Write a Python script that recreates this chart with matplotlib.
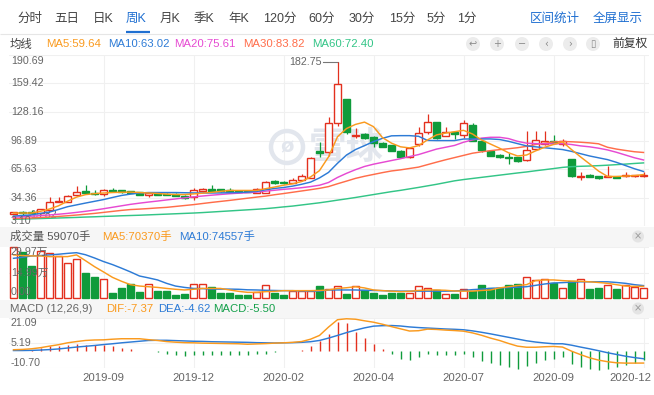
import matplotlib
matplotlib.use('Agg')
import matplotlib.pyplot as plt
from matplotlib.patches import Rectangle, Circle
from matplotlib.lines import Line2D
from matplotlib.transforms import IdentityTransform

plt.rcParams['font.family'] = ['Liberation Sans', 'Noto Sans CJK SC', 'DejaVu Sans']

# ---------------- data ----------------
opens = [16.5, 19.0, 19.0, 17.6, 21.3, 30.0, 29.6, 36.9, 41.6, 39.8,
         38.7, 43.1, 42.3, 41.6, 40.1, 37.6, 39.0, 38.5, 38.3, 36.5,
         34.7, 41.6, 43.4, 43.4, 43.1, 42.0, 41.8, 39.8, 39.4, 52.1,
         52.0, 50.5, 53.5, 56.4, 85.9, 84.2, 116.1, 142.2, 101.5, 104.4,
         101.1, 94.4, 92.1, 85.9, 78.6, 93.2, 106.6, 116.7, 102.2, 106.6,
         103.3, 114.2, 96.8, 85.9, 81.5, 78.3, 78.6, 75.8, 87.7, 93.2,
         96.8, 93.5, 76.9, 57.0, 59.0, 57.6, 57.5, 57.5, 57.8, 58.0, 57.9]
highs = [18.8, 19.6, 21.0, 22.5, 35.0, 35.0, 37.0, 46.7, 47.8, 43.0,
         43.5, 45.3, 43.0, 42.0, 40.5, 39.8, 39.5, 39.0, 39.0, 37.0,
         45.3, 45.3, 48.1, 44.0, 45.3, 42.5, 42.3, 45.5, 53.0, 54.0,
         53.0, 55.5, 60.5, 78.5, 95.7, 122.9, 182.75, 142.2, 110.2, 105.5,
         101.5, 95.0, 92.5, 86.5, 89.0, 111.3, 125.8, 117.0, 111.3, 107.5,
         119.7, 115.5, 97.5, 86.5, 82.0, 83.0, 79.0, 107.6, 107.6, 107.6,
         103.0, 98.5, 77.0, 62.0, 60.0, 58.0, 68.5, 58.0, 62.5, 59.5, 62.5]
lows = [16.0, 15.82, 16.8, 17.0, 21.0, 29.5, 29.4, 36.5, 39.0, 37.0,
        36.1, 40.8, 40.0, 39.0, 36.8, 35.0, 37.3, 36.8, 35.8, 33.0,
        32.2, 41.0, 41.0, 41.0, 40.5, 40.5, 40.3, 39.5, 39.0, 49.5,
        49.8, 50.0, 53.0, 55.5, 78.6, 80.0, 113.1, 104.0, 99.3, 98.5,
        89.5, 89.5, 85.0, 78.0, 77.5, 90.5, 103.5, 99.0, 101.5, 99.0,
        100.0, 96.0, 84.5, 79.5, 78.0, 71.5, 73.5, 75.0, 86.5, 91.5,
        93.0, 91.0, 57.0, 54.0, 56.5, 55.0, 56.5, 55.5, 57.0, 57.5, 57.0]
closes = [18.3, 17.6, 17.6, 21.9, 29.6, 31.0, 36.1, 40.5, 39.4, 37.9,
          43.1, 41.2, 40.5, 39.8, 37.2, 39.4, 37.8, 37.2, 36.1, 34.4,
          43.1, 43.4, 41.6, 41.4, 41.0, 41.0, 40.8, 44.2, 51.4, 50.3,
          50.3, 53.3, 57.8, 78.2, 83.4, 116.1, 158.5, 105.8, 102.6, 99.3,
          94.3, 90.2, 85.9, 78.6, 88.4, 104.8, 116.7, 99.7, 106.6, 104.1,
          116.1, 96.8, 86.6, 80.4, 78.6, 77.6, 74.2, 86.6, 97.5, 96.8,
          94.0, 96.8, 57.6, 58.5, 57.5, 55.7, 58.5, 56.2, 59.0, 59.0, 59.7]

ma5 = [17.6, 17.6, 17.6, 19.5, 22.0, 25.5, 30.5, 35.0, 37.7, 38.8,
       39.5, 40.0, 40.3, 40.5, 40.0, 39.5, 39.0, 38.3, 37.8, 37.8,
       38.5, 39.3, 40.2, 41.3, 42.3, 42.3, 42.3, 42.3, 44.2, 46.0,
       48.0, 49.5, 52.0, 57.0, 64.0, 79.0, 101.0, 110.0, 114.5, 117.0,
       112.0, 100.0, 94.0, 90.0, 88.8, 91.3, 97.5, 103.0, 105.0, 106.5,
       108.0, 104.0, 97.5, 93.0, 88.5, 83.5, 80.0, 81.0, 85.5, 89.5,
       92.5, 95.5, 87.0, 79.0, 71.4, 63.5, 57.6, 57.6, 58.0, 58.5, 59.64]
ma10 = [14.3, 14.9, 15.6, 17.2, 18.7, 21.5, 24.5, 26.5, 28.5, 30.4,
        32.3, 34.6, 36.8, 38.3, 39.5, 40.0, 40.0, 40.0, 40.0, 39.8,
        39.6, 39.5, 39.5, 39.6, 39.8, 40.0, 40.5, 41.2, 43.0, 44.5,
        45.5, 47.0, 49.0, 51.4, 56.0, 62.0, 72.0, 81.0, 87.0, 91.3,
        95.7, 99.3, 102.0, 102.2, 102.2, 101.5, 97.0, 96.8, 96.8, 96.8,
        98.5, 98.6, 98.6, 98.6, 98.0, 96.0, 93.5, 91.0, 90.0, 89.0,
        88.0, 87.0, 85.0, 82.5, 80.0, 78.0, 76.0, 73.0, 69.5, 66.0, 63.02]
ma20 = [13.0, 13.5, 14.2, 14.8, 15.5, 16.3, 17.2, 18.3, 19.5, 20.8,
        22.3, 23.9, 25.5, 27.1, 28.4, 29.6, 30.7, 31.9, 33.0, 34.2,
        35.3, 36.2, 37.1, 37.9, 38.7, 39.3, 39.8, 40.5, 41.5, 42.5,
        43.5, 44.3, 45.3, 46.5, 48.0, 51.0, 56.5, 61.0, 65.0, 68.5,
        71.0, 73.0, 75.0, 77.0, 79.3, 81.5, 84.5, 87.5, 89.5, 91.5,
        95.0, 97.5, 99.5, 100.4, 100.4, 99.0, 96.0, 94.0, 93.5, 93.3,
        93.2, 93.5, 92.5, 91.0, 90.0, 88.5, 86.6, 84.0, 81.0, 78.0, 75.61]
ma30 = [11.5, 11.8, 12.2, 12.7, 13.3, 13.9, 14.6, 15.4, 16.3, 17.2,
        18.3, 19.4, 20.5, 21.4, 21.9, 22.5, 23.2, 23.8, 24.8, 25.8,
        26.8, 28.0, 29.2, 30.3, 31.4, 32.6, 33.8, 35.0, 36.1, 37.6,
        38.9, 40.3, 41.7, 43.1, 44.6, 46.5, 49.6, 52.5, 55.5, 57.8,
        59.8, 61.8, 63.6, 64.8, 66.3, 67.8, 70.5, 73.2, 75.8, 78.2,
        80.6, 83.0, 84.5, 85.8, 86.9, 87.9, 89.0, 90.5, 92.5, 94.0,
        95.3, 95.8, 95.5, 95.0, 94.3, 93.3, 89.5, 87.5, 86.0, 84.6, 83.82]
ma60 = [10.7, 11.0, 11.3, 11.6, 11.9, 12.2, 12.5, 12.8, 13.2, 13.5,
        13.9, 14.2, 14.6, 14.9, 15.2, 15.6, 16.0, 16.4, 16.8, 17.2,
        17.6, 18.1, 18.7, 19.3, 19.9, 20.5, 21.1, 21.7, 22.4, 23.3,
        24.3, 25.2, 26.4, 27.6, 28.8, 30.2, 31.7, 33.1, 34.6, 36.2,
        37.8, 39.4, 41.0, 42.4, 44.0, 45.6, 47.3, 49.0, 50.9, 52.8,
        54.2, 55.4, 56.6, 57.8, 59.0, 60.2, 61.4, 62.5, 63.8, 65.0,
        66.2, 67.5, 68.3, 68.7, 69.0, 69.4, 69.9, 70.5, 71.1, 71.8, 72.40]

# volume in 万手
vol = [29.97, 27.4, 19.0, 27.8, 26.4, 24.9, 20.6, 22.9, 15.1, 12.7,
       11.2, 3.3, 6.1, 8.4, 3.9, 8.4, 4.3, 4.3, 2.1, 2.5,
       8.4, 8.4, 6.5, 3.3, 3.3, 2.1, 2.1, 3.9, 7.6, 3.3,
       2.1, 4.1, 4.1, 4.1, 7.2, 5.3, 7.2, 2.5, 7.2, 4.9,
       3.3, 1.9, 3.3, 3.3, 2.9, 7.2, 6.1, 4.9, 2.5, 2.5,
       5.3, 4.3, 7.8, 5.9, 5.9, 7.8, 8.4, 12.3, 10.8, 11.2,
       9.2, 5.9, 10.2, 11.2, 5.5, 6.1, 8.0, 5.5, 8.0, 6.8, 5.907]
vol_ma5 = [25.5, 25.1, 24.9, 24.9, 24.5, 24.5, 24.5, 25.5, 22.1, 18.6,
           15.5, 12.3, 10.0, 8.0, 7.2, 6.8, 6.4, 5.8, 5.3, 4.9,
           5.3, 5.8, 5.8, 5.8, 4.9, 4.1, 3.5, 3.5, 3.9, 4.1,
           4.5, 4.5, 4.5, 4.5, 4.6, 4.9, 5.8, 6.2, 6.8, 6.1,
           4.9, 4.5, 4.2, 3.9, 4.1, 4.6, 4.9, 4.9, 4.7, 4.3,
           4.2, 4.2, 4.6, 4.9, 6.1, 6.8, 7.5, 8.0, 10.4, 10.8,
           10.8, 10.4, 10.1, 10.0, 9.7, 9.3, 8.8, 8.0, 7.2, 7.0, 7.037]
vol_ma10 = [23.5, 24.1, 24.9, 25.1, 25.5, 25.9, 26.4, 26.8, 25.6, 23.7,
            21.6, 19.8, 17.7, 15.5, 13.1, 12.0, 10.8, 8.8, 7.2, 6.4,
            5.8, 5.7, 5.4, 5.4, 5.4, 5.3, 5.0, 4.9, 4.7, 4.6,
            4.5, 4.5, 4.3, 4.2, 4.2, 4.9, 4.9, 4.9, 4.9, 4.7,
            4.6, 4.5, 4.3, 4.2, 4.2, 4.2, 4.2, 4.2, 4.2, 4.3,
            4.6, 5.1, 5.4, 5.8, 6.1, 6.3, 6.5, 6.8, 7.6, 8.4,
            9.0, 9.2, 9.5, 9.7, 9.7, 9.7, 9.7, 9.3, 8.8, 8.0, 7.456]

dif = [1.1, 1.3, 1.7, 2.4, 3.4, 4.3, 5.5, 6.3, 7.0, 7.3,
       7.4, 7.8, 8.1, 8.1, 8.1, 7.5, 7.0, 6.3, 5.9, 5.6,
       5.5, 5.3, 5.2, 5.1, 5.0, 4.9, 4.6, 4.8, 5.0, 5.3,
       5.5, 5.8, 6.3, 7.8, 10.2, 15.5, 20.2, 20.8, 20.5, 19.5,
       18.6, 17.3, 15.8, 14.4, 13.0, 13.2, 14.2, 14.0, 13.6, 13.3,
       12.9, 11.8, 10.3, 8.5, 7.0, 5.1, 3.4, 2.7, 2.7, 3.0,
       3.2, 2.8, 0.2, -2.0, -4.0, -5.5, -6.5, -7.2, -7.4, -7.4, -7.37]
dea = [0.6, 0.6, 0.7, 0.9, 1.2, 1.6, 2.2, 2.8, 3.3, 3.8,
       4.4, 4.9, 5.5, 6.0, 6.5, 7.0, 7.1, 7.1, 6.9, 6.7,
       6.5, 6.4, 6.2, 6.1, 6.0, 5.9, 5.8, 5.6, 5.5, 5.4,
       5.5, 5.6, 5.8, 6.2, 7.0, 8.5, 10.2, 12.0, 13.6, 15.0,
       16.1, 16.4, 16.5, 16.2, 15.6, 15.2, 14.9, 14.6, 14.3, 14.1,
       13.8, 13.1, 12.2, 11.2, 10.1, 9.0, 7.9, 6.8, 6.0, 5.4,
       4.9, 4.9, 4.0, 2.8, 1.7, 0.5, -0.8, -1.9, -3.0, -3.9, -4.62]
macd = [0.2, 0.4, 1.1, 2.1, 3.2, 3.2, 3.8, 4.9, 4.2, 4.2,
        4.2, 3.6, 2.1, 1.7, 0.4, 0.2, -0.1, -1.7, -2.1, -2.8,
        -2.1, -2.1, -2.1, -2.1, -2.1, -2.1, -2.5, -1.7, -1.5, -0.1,
        0.1, 0.4, 1.1, 3.2, 6.4, 11.2, 18.7, 18.0, 12.3, 8.7,
        4.9, 1.7, -1.5, -4.7, -5.3, -3.6, -1.5, -2.1, -2.1, -2.5,
        -1.5, -3.6, -6.1, -7.4, -8.9, -10.0, -11.0, -9.5, -7.4, -5.7,
        -4.7, -3.2, -7.8, -10.0, -11.0, -11.7, -11.0, -10.0, -8.3, -7.4, -5.50]

price_ticks = [190.69, 159.42, 128.16, 96.89, 65.63, 34.36, 3.10]
price_tick_labels = ['190.69', '159.42', '128.16', '96.89', '65.63', '34.36', '3.10']
vol_ticks = [29.97, 14.99, 0.0]
vol_tick_labels = ['29.97万', '14.99万', '0.00']
macd_ticks = [21.09, 5.19, -10.70]
macd_tick_labels = ['21.09', '5.19', '-10.70']
date_pos = [10, 20, 30, 40, 50, 60, 70]
date_labels = ['2019-09', '2019-12', '2020-02', '2020-04', '2020-07', '2020-09', '2020-12']

tabs = ['分时', '五日', '日K', '周K', '月K', '季K', '年K', '120分', '60分', '30分', '15分', '5分', '1分']
tab_x = [17, 54, 93, 126, 160, 194, 228, 263, 308, 349, 389, 427, 457]

# ---------------- style ----------------
RED = '#e3301e'
GREEN = '#0f9b3b'
C_MA5 = '#fa9a1e'
C_MA10 = '#2d7bd6'
C_MA20 = '#e64ad2'
C_MA30 = '#ff6d4a'
C_MA60 = '#33c587'
GRID = '#f0f0f0'
AXT = '#666666'
BLUE_LINK = '#1f6fd1'

W, H = 654, 395
fig = plt.figure(figsize=(W / 100, H / 100), dpi=100)
fig.patch.set_facecolor('white')


def FX(px):
    return px / W


def FY(py):
    return 1 - py / H


def txt(px, py, s, size=8.2, color='#333333', ha='left', **kw):
    fig.text(FX(px), FY(py), s, fontsize=size, color=color, ha=ha, va='center', **kw)


def band(py0, py1, color):
    fig.add_artist(Rectangle((0, FY(py1)), 1, FY(py0) - FY(py1), transform=fig.transFigure,
                             facecolor=color, edgecolor='none', zorder=-5))


def fline(px0, px1, py, color, lw):
    fig.add_artist(Line2D([FX(px0), FX(px1)], [FY(py), FY(py)], transform=fig.transFigure,
                          color=color, lw=lw, solid_capstyle='butt'))


def icon(px, py, r, sym, size=8, color='#8a8a8a', fill='#ececec'):
    fig.add_artist(Circle((px, H - py), r, transform=IdentityTransform(),
                          facecolor=fill, edgecolor='none', zorder=1))
    fig.text(FX(px), FY(py), sym, fontsize=size, color=color, ha='center', va='center',
             family=['DejaVu Sans'], zorder=2)


N = len(closes)
XMIN, XMAX = -0.5, 70.61
AX_L, AX_W = 9, 640


def make_ax(py_top, py_bot, ylo, yhi):
    ax = fig.add_axes([FX(AX_L), FY(py_bot), AX_W / W, (py_bot - py_top) / H])
    ax.set_xlim(XMIN, XMAX)
    ax.set_ylim(ylo, yhi)
    ax.axis('off')
    return ax


# ---------------- top toolbar ----------------
for t, x in zip(tabs, tab_x):
    txt(x, 19, t, size=9, color=BLUE_LINK if t == '周K' else '#444444')
txt(530, 19, '区间统计', size=9, color=BLUE_LINK)
txt(593, 19, '全屏显示', size=9, color=BLUE_LINK)
fline(0, W, 33.5, '#e6e6e6', 0.8)
fline(126, 150, 32.2, BLUE_LINK, 1.6)

# MA legend row
txt(10, 44, '均线', color='#444444')
txt(46, 44, 'MA5:59.64', color=C_MA5)
txt(108, 44, 'MA10:63.02', color=C_MA10)
txt(174, 44, 'MA20:75.61', color=C_MA20)
txt(243, 44, 'MA30:83.82', color=C_MA30)
txt(312, 44, 'MA60:72.40', color=C_MA60)
for x, s in zip([473, 497, 522, 546, 570, 593], ['↩', '+', '−', '‹', '›', '▯']):
    icon(x, 44, 7, s, size=7)
txt(612, 44, '前复权', size=8.5, color='#333333')

# section bands
band(226.7, 247.3, '#f6f6f6')
band(300.0, 318.3, '#f6f6f6')

# ---------------- main price chart ----------------
ax = make_ax(54.7, 226.3, 3.10, 190.69)
for v in price_ticks:
    ax.axhline(v, color=GRID, lw=0.8, zorder=0)
for p in date_pos:
    ax.axvline(p, color=GRID, lw=0.8, zorder=0)

# watermark
ax.add_artist(Circle((287, H - 147), 16, transform=IdentityTransform(), facecolor='none',
                     edgecolor='#e2e6ed', lw=3.2, zorder=0.5))
ax.text(FX(287), FY(147), 'ø', transform=fig.transFigure, fontsize=14, color='#e2e6ed',
        ha='center', va='center', zorder=0.5, family=['DejaVu Sans'], fontweight='bold')
ax.text(FX(309), FY(149), '雪球', transform=fig.transFigure, fontsize=27, color='#e2e6ed',
        ha='left', va='center', zorder=0.5, fontweight='bold')

BW = 0.72
for i in range(N):
    o, h, l, c = opens[i], highs[i], lows[i], closes[i]
    up = c >= o
    col = RED if up else GREEN
    lo_b, hi_b = min(o, c), max(o, c)
    ax.plot([i, i], [l, lo_b], color=col, lw=0.9, zorder=3, solid_capstyle='butt')
    ax.plot([i, i], [hi_b, h], color=col, lw=0.9, zorder=3, solid_capstyle='butt')
    ax.add_patch(Rectangle((i - BW / 2, lo_b), BW, max(hi_b - lo_b, 0.9),
                           facecolor='white' if up else col, edgecolor=col,
                           lw=1.0, zorder=3))

xs = list(range(N))
for series, colr in [(ma60, C_MA60), (ma30, C_MA30), (ma20, C_MA20), (ma10, C_MA10), (ma5, C_MA5)]:
    ax.plot(xs, series, color=colr, lw=1.05, zorder=4)

# max / min markers
imax = highs.index(max(highs))
ax.plot([imax, imax - 1.65], [highs[imax], highs[imax]], color='#777777', lw=0.8, zorder=2)
ax.text(imax - 1.7, highs[imax], '182.75', color=AXT, fontsize=7.7, ha='right', va='center', zorder=2)
imin = lows.index(min(lows))
ax.plot([imin, imin + 0.8], [lows[imin], lows[imin]], color='#777777', lw=0.8, zorder=2)
ax.text(imin + 0.85, lows[imin], '15.82', color=AXT, fontsize=7.7, ha='left', va='center', zorder=2)

for lab, py in zip(price_tick_labels, [60.5, 83.3, 111.9, 140.5, 169.1, 197.7, 221.5]):
    txt(11, py, lab, size=7.7, color=AXT)

# ---------------- volume ----------------
txt(10, 236.5, '成交量 59070手', color='#555555')
txt(102, 236.5, 'MA5:70370手', color=C_MA5)
txt(179, 236.5, 'MA10:74557手', color=C_MA10)
icon(638, 236.5, 6, '×', size=7, color='#999999', fill='#e4e4e4')

axv = make_ax(247.3, 298.3, 0, 29.97)
for v in vol_ticks:
    axv.axhline(v, color=GRID, lw=0.8, zorder=0)
for p in date_pos:
    axv.axvline(p, color=GRID, lw=0.8, zorder=0)
for i in range(N):
    up = closes[i] >= opens[i]
    col = RED if up else GREEN
    axv.add_patch(Rectangle((i - BW / 2, 0), BW, vol[i], facecolor='white' if up else col,
                            edgecolor=col, lw=1.0, zorder=3, clip_on=False))
axv.plot(xs, vol_ma10, color=C_MA10, lw=1.05, zorder=4)
axv.plot(xs, vol_ma5, color=C_MA5, lw=1.05, zorder=4)
for lab, py in zip(vol_tick_labels, [252, 272.5, 292]):
    txt(11, py, lab, size=7.7, color=AXT)

# ---------------- MACD ----------------
txt(10, 308.5, 'MACD (12,26,9)', color='#666666')
txt(106, 308.5, 'DIF:-7.37', color=C_MA5)
txt(158, 308.5, 'DEA:-4.62', color=C_MA10)
txt(213, 308.5, 'MACD:-5.50', color='#14a04a')
icon(638, 308.5, 6, '×', size=7, color='#999999', fill='#e4e4e4')

axm = make_ax(318.3, 368.3, -10.70, 21.09)
for v in macd_ticks:
    axm.axhline(v, color=GRID, lw=0.8, zorder=0)
for p in date_pos:
    axm.axvline(p, color=GRID, lw=0.8, zorder=0)
for i in range(N):
    m = macd[i]
    axm.plot([i, i], [0, m], color=RED if m >= 0 else GREEN, lw=1.0, zorder=3,
             solid_capstyle='butt', clip_on=False)
axm.plot(xs, dea, color=C_MA10, lw=1.05, zorder=4)
axm.plot(xs, dif, color=C_MA5, lw=1.05, zorder=4)
for lab, py in zip(macd_tick_labels, [323, 343.3, 362.7]):
    txt(11, py, lab, size=7.7, color=AXT)

# x date labels
for p, lab in zip(date_pos, date_labels):
    px = AX_L + (p - XMIN) * AX_W / (XMAX - XMIN)
    if px + 21 > W:
        txt(651, 378, lab, size=8.2, color=AXT, ha='right')
    else:
        txt(px, 378, lab, size=8.2, color=AXT, ha='center')

fig.savefig('out.png', dpi=100, facecolor='white')
